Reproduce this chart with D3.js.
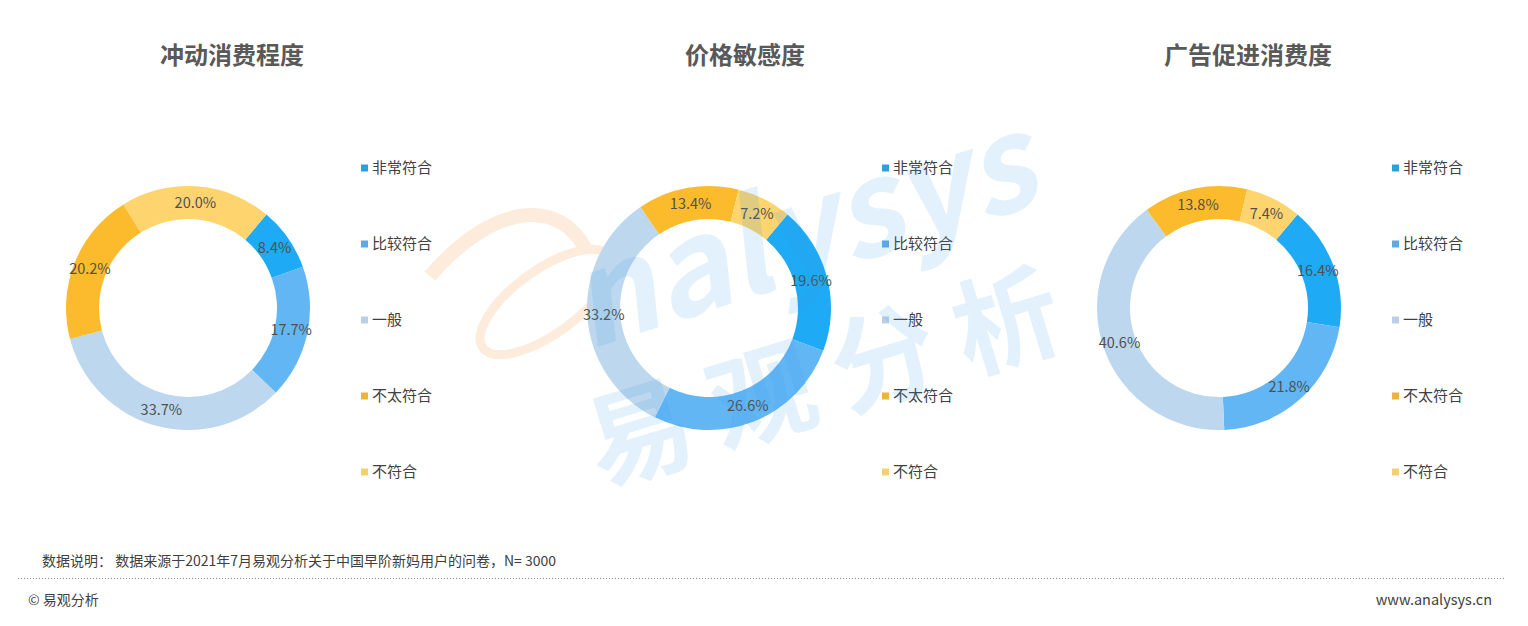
<!DOCTYPE html>
<html>
<head>
<meta charset="utf-8">
<script src="https://cdn.jsdelivr.net/npm/d3@7/dist/d3.min.js"></script>
<style>
  html, body { margin: 0; padding: 0; background: #fff; }
  svg { display: block; }
  text { font-family: "Noto Sans CJK SC", "Noto Sans", sans-serif; }
</style>
</head>
<body>
<svg id="chart" width="1528" height="626"></svg>
<script>
// ---- data ----
const titles = ["冲动消费程度", "价格敏感度", "广告促进消费度"];
const categories = ["非常符合", "比较符合", "一般", "不太符合", "不符合"];
const impulseValues = [8.4, 17.7, 33.7, 20.2, 20.0];
const priceValues = [19.6, 26.6, 33.2, 13.4, 7.2];
const adValues = [16.4, 21.8, 40.6, 13.8, 7.4];
const note = "数据说明：  数据来源于2021年7月易观分析关于中国早阶新妈用户的问卷，N= 3000";
const copyright = "© 易观分析";
const website = "www.analysys.cn";

// ---- styles / layout ----
const sliceColors = ["#1eaaf5", "#62b6f4", "#bdd7ee", "#fbbb2c", "#fdd46e"];
const legendColors = ["#2aa0dc", "#5eaae2", "#b9d0e6", "#ecb43a", "#f3d070"];
const panels = [
  { title: titles[0], values: impulseValues, cx: 188, titleX: 232 },
  { title: titles[1], values: priceValues, cx: 709, titleX: 745 },
  { title: titles[2], values: adValues, cx: 1219, titleX: 1248 }
];
const cy = 308, outerR = 122, innerR = 89;
const startDeg = 40;

const svg = d3.select("#chart");

const pie = d3.pie().sort(null).value(d => d.v)
  .startAngle(startDeg * Math.PI / 180)
  .endAngle(startDeg * Math.PI / 180 + 2 * Math.PI);
const arc = d3.arc().innerRadius(innerR).outerRadius(outerR);
const labelArc = d3.arc().innerRadius((innerR + outerR) / 2).outerRadius((innerR + outerR) / 2);

const legendY = d3.scalePoint().domain(categories).range([168, 472]);
const color = d3.scaleOrdinal().domain(categories).range(sliceColors);
const lcolor = d3.scaleOrdinal().domain(categories).range(legendColors);

// ---- orange swoosh (behind) ----
const sw = svg.append("g").attr("pointer-events", "none").attr("opacity", 0.32);
sw.append("path")
  .attr("d", "M430,276 C452,250 485,222 520,216 C552,211 574,226 586,250")
  .attr("fill", "none").attr("stroke", "#fbc590").attr("stroke-width", 14);
sw.append("ellipse")
  .attr("cx", 546).attr("cy", 302).attr("rx", 78).attr("ry", 32)
  .attr("transform", "rotate(-36,546,302)")
  .attr("fill", "none").attr("stroke", "#fbc590").attr("stroke-width", 9);

panels.forEach(p => {
  const data = categories.map((c, i) => ({ c, v: p.values[i] }));
  svg.append("text")
    .attr("x", p.titleX).attr("y", 64)
    .attr("text-anchor", "middle")
    .attr("font-size", 24).attr("font-weight", 700)
    .attr("fill", "#595959")
    .text(p.title);

  const g = svg.append("g").attr("transform", `translate(${p.cx},${cy})`);
  const arcs = pie(data);
  g.selectAll("path").data(arcs).join("path")
    .attr("d", arc)
    .attr("fill", d => color(d.data.c));
  g.selectAll("text").data(arcs).join("text")
    .attr("transform", d => `translate(${labelArc.centroid(d)})`)
    .attr("text-anchor", "middle")
    .attr("dy", "0.35em")
    .attr("font-size", 14.5)
    .attr("fill", "#505050")
    .text(d => d.data.v.toFixed(1) + "%");

  const lg = svg.append("g").attr("transform", `translate(${p.cx + 173},0)`);
  const items = lg.selectAll("g").data(categories).join("g")
    .attr("transform", c => `translate(0,${legendY(c)})`);
  items.append("rect").attr("x", 0).attr("y", -3.5).attr("width", 7).attr("height", 7)
    .attr("fill", c => lcolor(c));
  items.append("text").attr("x", 11).attr("dy", "0.36em")
    .attr("font-size", 15).attr("fill", "#404040")
    .text(c => c);
});

// ---- watermark (on top) ----
const wm = svg.append("g").attr("pointer-events", "none");
wm.append("text")
  .attr("transform", "translate(588,350) rotate(-18) skewX(-12)")
  .attr("font-family", "'Open Sans', sans-serif")
  .attr("font-size", 130).attr("font-weight", 700)
  .attr("fill", "#3aa0ea").attr("fill-opacity", 0.15)
  .text("nalysys");
wm.append("text")
  .attr("transform", "translate(600,486) rotate(-17)")
  .attr("font-size", 106).attr("font-weight", 700)
  .attr("letter-spacing", 22)
  .attr("fill", "#3aa0ea").attr("fill-opacity", 0.15)
  .text("易观分析");

// ---- footer ----
svg.append("text").attr("x", 42).attr("y", 566)
  .attr("font-size", 14).attr("fill", "#404040").text(note);
svg.append("line").attr("x1", 18).attr("x2", 1505).attr("y1", 578.5).attr("y2", 578.5)
  .attr("stroke", "#8c8c8c").attr("stroke-width", 1).attr("stroke-dasharray", "1,2");
svg.append("text").attr("x", 28).attr("y", 605)
  .attr("font-size", 14).attr("fill", "#404040").text(copyright);
svg.append("text").attr("x", 1492).attr("y", 605).attr("text-anchor", "end")
  .attr("font-size", 14.5).attr("fill", "#404040").text(website);
</script>
</body>
</html>
